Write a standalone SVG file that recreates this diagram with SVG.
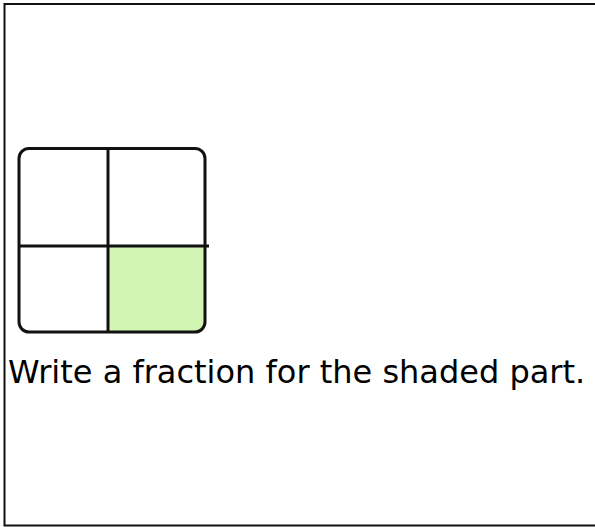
<svg xmlns="http://www.w3.org/2000/svg" width="595" height="527" viewBox="0 0 595 527">
<style>
.ln{stroke:#111;stroke-width:3;fill:none;stroke-linecap:butt}
.txt{font-family:"DejaVu Sans",sans-serif;font-size:32px;fill:#000}
</style>
<rect x="0" y="0" width="595" height="527" fill="#fff"/>
<rect x="4.5" y="4" width="600" height="521.5" fill="none" stroke="#111" stroke-width="2"/>
<g id="shape">
<path d="M108 246 H205 V322 A10 10 0 0 1 195 332 H108 Z" fill="#d2f5b4"/>
<rect class="ln" x="19" y="148.5" width="186" height="183.5" rx="10" ry="10"/>
<line class="ln" x1="108" y1="148.5" x2="108" y2="332"/>
<line class="ln" x1="19" y1="246" x2="209" y2="246"/>
</g>
<g id="label">
<text class="txt" x="8" y="383">Write a fraction for the shaded part.</text>
</g>
</svg>
